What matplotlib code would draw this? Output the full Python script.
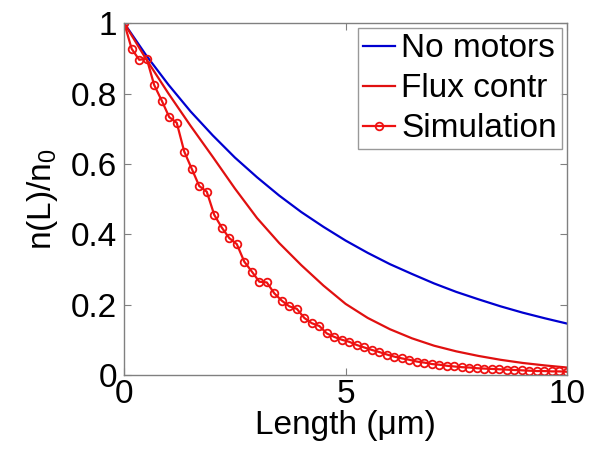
import numpy as np
import matplotlib
matplotlib.use("Agg")
from matplotlib import pyplot as plt

plt.rcParams['font.family'] = ['Liberation Sans', 'DejaVu Sans']
plt.rcParams['mathtext.fontset'] = 'custom'
plt.rcParams['mathtext.rm'] = 'Liberation Sans'
plt.rcParams['mathtext.it'] = 'Liberation Sans'

# smooth model curves, read every 0.5 um
length_model = [0.0, 0.5, 1.0, 1.5, 2.0, 2.5, 3.0, 3.5, 4.0, 4.5, 5.0,
                5.5, 6.0, 6.5, 7.0, 7.5, 8.0, 8.5, 9.0, 9.5, 10.0]
no_motors = [1.000, 0.908, 0.825, 0.749, 0.681, 0.618, 0.562, 0.510, 0.463, 0.421, 0.382,
             0.347, 0.315, 0.287, 0.260, 0.236, 0.215, 0.195, 0.177, 0.161, 0.146]
flux_contr = [1.000, 0.897, 0.800, 0.708, 0.620, 0.530, 0.446, 0.375, 0.312, 0.254, 0.202,
              0.162, 0.130, 0.104, 0.083, 0.067, 0.054, 0.043, 0.034, 0.027, 0.021]

# simulation, 60 samples over 0..10 um
length_sim = np.linspace(0, 10, 60)
simulation = [1.000, 0.927, 0.896, 0.899, 0.824, 0.780, 0.733, 0.717, 0.635, 0.586,
              0.537, 0.521, 0.455, 0.419, 0.389, 0.372, 0.322, 0.294, 0.265, 0.263,
              0.232, 0.211, 0.195, 0.188, 0.162, 0.147, 0.139, 0.118, 0.108, 0.100,
              0.094, 0.085, 0.078, 0.071, 0.065, 0.058, 0.052, 0.047, 0.043, 0.038,
              0.035, 0.031, 0.029, 0.026, 0.024, 0.022, 0.021, 0.019, 0.018, 0.017,
              0.016, 0.015, 0.014, 0.013, 0.012, 0.011, 0.011, 0.010, 0.010, 0.009]

fig = plt.figure(figsize=(6, 4.55), dpi=100)
ax = fig.add_axes([0.207, 0.176, 0.738, 0.773])

ax.plot(length_model, no_motors, color='#0000d0', lw=1.6, label='No motors')
ax.plot(length_model, flux_contr, color='#e01010', lw=1.6, label='Flux contr')
ax.plot(length_sim, simulation, color='#ee1111', lw=1.6, marker='o', ms=5.5,
        mfc='none', mew=1.3, label='Simulation')

ax.set_xlim(0, 10)
ax.set_ylim(0, 1)
ax.set_xticks([0, 5, 10])
ax.set_yticks([0, 0.2, 0.4, 0.6, 0.8, 1])
ax.set_yticklabels(['0', '0.2', '0.4', '0.6', '0.8', '1'])
ax.tick_params(direction='in', length=5, width=0.8, color='#808080',
               top=True, right=True, labelsize=24, pad=5)
ax.tick_params(axis='x', pad=3)
for s in ax.spines.values():
    s.set_color('#808080')
    s.set_linewidth(1.0)

ax.set_xlabel('Length (μm)', fontsize=24, labelpad=0)
ax.set_ylabel('n(L)/n$_0$', fontsize=24, labelpad=8)

leg = ax.legend(loc='upper right', fontsize=24, frameon=True, fancybox=False,
                edgecolor='#808080', handlelength=0.95, handletextpad=0.2,
                labelspacing=0.27, borderpad=0.15, borderaxespad=0.15)
leg.get_frame().set_linewidth(1.0)

fig.savefig('out.png', dpi=100)
